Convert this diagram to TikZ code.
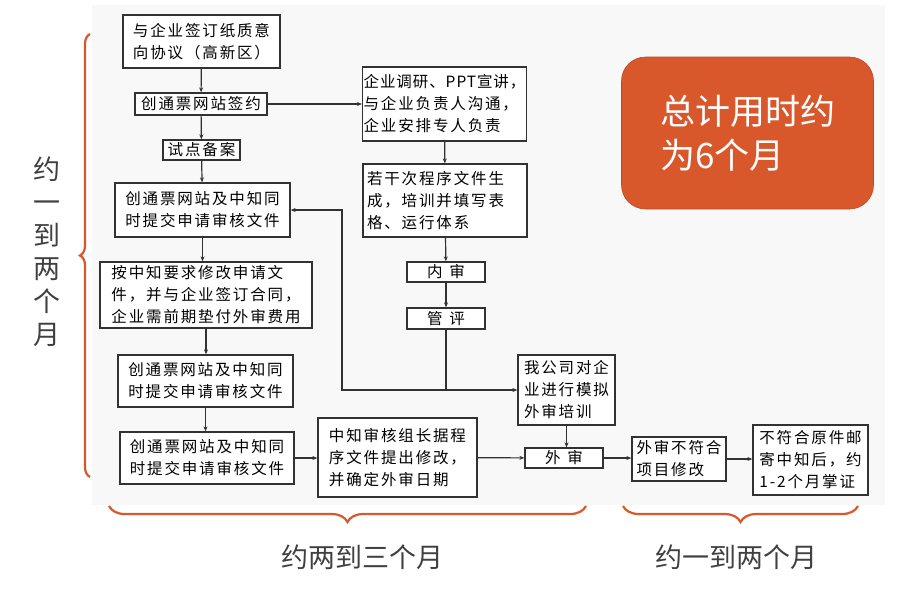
\documentclass[tikz,border=0pt]{standalone}
\usepackage{fontspec}
\setmainfont{Noto Sans CJK SC}
\newfontfamily\boxfont{Noto Sans CJK SC}[LetterSpace=12]
\usetikzlibrary{positioning,arrows.meta,decorations.pathreplacing}
\definecolor{brand}{RGB}{217,88,43}
\definecolor{panel}{RGB}{248,248,248}
\definecolor{ink}{RGB}{50,50,50}
\definecolor{notegray}{RGB}{64,64,64}
\tikzset{
  flow/.style={draw=ink,line width=1.3pt,fill=white,align=left,inner sep=1pt,
    font=\boxfont\fontsize{15.5}{22}\selectfont},
  link/.style={->,draw=ink,line width=1.2pt},
  timebrace/.style={draw=brand,line width=2.2pt,decorate,decoration={brace,amplitude=#1}},
  note/.style={text=notegray,font=\fontsize{27}{33}\selectfont},
}

\begin{document}
\begin{tikzpicture}[x=1pt,y=1pt,>={Stealth[length=5pt,width=4pt]}]
  \useasboundingbox (0,0) rectangle (923,-590);
  \fill[panel] (92,-5) rectangle (885,-505);
  % left column
  \node[flow,minimum width=157pt,minimum height=53pt] (a) at (201.5,-41.5) {与企业签订纸质意\\向协议（高新区）};
  \node[flow,minimum width=132pt,minimum height=22pt] (b) at (201,-104) {创通票网站签约};
  \node[flow,minimum width=77pt,minimum height=20pt] (c) at (201.5,-150) {试点备案};
  \node[flow,minimum width=175pt,minimum height=54pt] (d) at (202.5,-210) {创通票网站及中知同\\时提交申请审核文件};
  \node[flow,minimum width=212pt,minimum height=66pt] (f) at (206,-295) {按中知要求修改申请文\\件，并与企业签订合同，\\企业需前期垫付外审费用};
  \node[flow,minimum width=175pt,minimum height=52pt] (g) at (205.5,-381) {创通票网站及中知同\\时提交申请审核文件};
  \node[flow,minimum width=174pt,minimum height=52pt] (h) at (207,-458) {创通票网站及中知同\\时提交申请审核文件};
  % middle column
  \node[flow,minimum width=163pt,minimum height=74pt] (e) at (444.5,-104) {\addfontfeature{LetterSpace=6}企业调研、PPT宣讲，\\与企业负责人沟通，\\企业安排专人负责};
  \node[flow,text width=156pt,minimum height=73pt,inner xsep=4pt] (m) at (445,-200.5) {若干次程序文件生\\成，培训并填写表\\格、运行体系};
  \node[flow,minimum width=78pt,minimum height=20pt] (p) at (446,-272) {内\hspace{7pt}审};
  \node[flow,minimum width=78pt,minimum height=21pt] (q) at (446,-318.5) {管\hspace{7pt}评};
  \node[flow,minimum width=97pt,minimum height=70pt] (j) at (566.5,-390) {我公司对企\\业进行模拟\\外审培训};
  \node[flow,minimum width=159pt,minimum height=79pt] (i) at (397.5,-457.5) {中知审核组长据程\\序文件提出修改，\\并确定外审日期};
  \node[flow,minimum width=78pt,minimum height=20pt] (k) at (564,-458) {外\hspace{7pt}审};
  % right part
  \node[flow,minimum width=94pt,minimum height=44pt] (l) at (679,-459) {外审不符合\\项目修改};
  \node[flow,minimum width=115pt,minimum height=70pt] (n) at (810.5,-460) {不符合原件邮\\寄中知后，约\\1-2个月掌证};
  \node[fill=brand,draw=brand!85!black,line width=0.6pt,rounded corners=24pt,
    minimum width=252pt,minimum height=152pt,text=white,align=left,
    font=\fontsize{35}{44}\selectfont] (total) at (747.5,-133) {总计用时约\\为6个月};
  \coordinate (jn) at (q |- j);
  \coordinate (back) at (342,-390);
  \draw[link] (a) -- (b);
  \draw[link] (b) -- (c);
  \draw[link] (c) -- (d);
  \draw[link] (b) -- (e);
  \draw[link] (e) -- (m);
  \draw[link] (m) -- (p);
  \draw[link] (p) -- (q);
  \draw[link] (q) -- (jn) -- (j);
  \draw[link] (jn) -- (back) |- (d.east);
  \draw[link] (d) -- (d |- f.north);
  \draw[link] (f.south) -- (f.south |- g.north);
  \draw[link] (g.south) -- (g.south |- h.north);
  \draw[link] (h.east) -- (h.east -| i.west);
  \draw[link] (i) -- (k);
  \draw[link] (j.south) -- (j.south |- k.north);
  \draw[link] (k.east) -- (k.east -| l.west);
  \draw[link] (l.east) -- (l.east -| n.west);
  % time spans
  \draw[timebrace=10pt] (90,-477) -- (90,-34);
  \draw[timebrace=16pt] (586,-506) -- (109,-506);
  \draw[timebrace=16pt] (858,-506) -- (623,-506);
  \node[note,align=center] (side) at (47,-252) {约\\一\\到\\两\\个\\月};
  \node[note] (first) at (362,-557) {约两到三个月};
  \node[note] (second) at (736,-557) {约一到两个月};
\end{tikzpicture}
\end{document}
